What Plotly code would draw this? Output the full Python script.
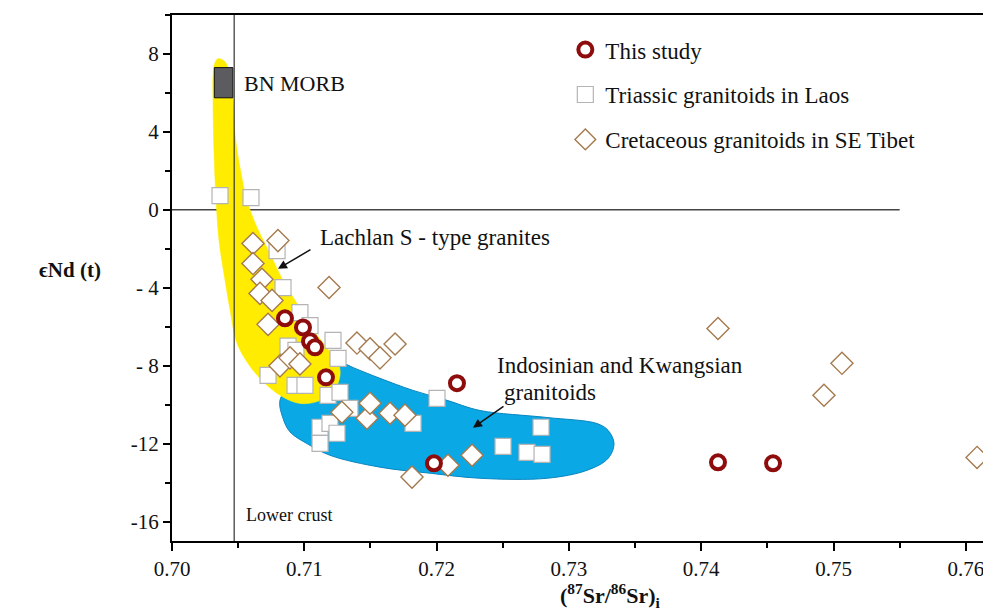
import plotly.graph_objects as go

# ---------------- data ----------------
study_sr = [0.70854, 0.70990, 0.71043, 0.71081, 0.71164, 0.72154, 0.71980, 0.74127, 0.74543]
study_nd = [-5.57, -6.04, -6.75, -7.06, -8.60, -8.90, -13.01, -12.96, -13.01]

laos_sr = [0.70363, 0.70597, 0.70794, 0.70839, 0.70967, 0.71043, 0.70877, 0.70937, 0.71217,
           0.71255, 0.70726, 0.70930, 0.71005, 0.71179, 0.71270, 0.71345, 0.71822, 0.72003,
           0.71119, 0.71194, 0.71247, 0.71119, 0.72502, 0.72683, 0.72797, 0.72789]
laos_nd = [0.73, 0.63, -2.09, -3.99, -5.28, -5.94, -7.00, -7.21, -6.70,
           -7.63, -8.50, -9.01, -9.01, -9.52, -9.37, -10.19, -10.96, -9.68,
           -11.16, -10.96, -11.47, -11.99, -12.14, -12.45, -12.55, -11.16]

tibet_sr = [0.70612, 0.70801, 0.70612, 0.70680, 0.70665, 0.70756, 0.70726, 0.71187,
            0.70816, 0.70892, 0.70967, 0.71398, 0.71497, 0.71572, 0.71686, 0.71284,
            0.71474, 0.71497, 0.71648, 0.71761, 0.71814, 0.72086, 0.72268, 0.74127,
            0.75064, 0.74928, 0.76085]
tibet_nd = [-1.73, -1.58, -2.76, -3.57, -4.29, -4.65, -5.88, -3.99,
            -8.01, -7.60, -7.91, -6.84, -7.14, -7.60, -6.89, -10.39,
            -10.70, -9.93, -10.44, -10.54, -13.72, -13.11, -12.60, -6.09,
            -7.88, -9.52, -12.71]

# field outlines (Sr, Nd)
lachlan_sr = [0.70348, 0.70401, 0.70438, 0.70461, 0.70476, 0.70514, 0.70567, 0.70643, 0.70741,
              0.70839, 0.70945, 0.71043, 0.71156, 0.71255, 0.71270, 0.71217, 0.71104, 0.70967,
              0.70831, 0.70688, 0.70559, 0.70484, 0.70446, 0.70401, 0.70355, 0.70333, 0.70317,
              0.70310, 0.70310, 0.70325, 0.70348]
lachlan_nd = [7.76, 7.60, 6.89, 5.61, 3.91, 2.17, 0.48, -0.91, -2.24,
              -3.63, -4.81, -5.94, -6.96, -7.84, -8.50, -9.37, -9.83, -9.94,
              -9.58, -8.81, -7.73, -6.71, -5.42, -3.63, -1.57, 0.48, 3.04,
              5.61, 6.89, 7.56, 7.76]

indo_sr = [0.71119, 0.71270, 0.71383, 0.71572, 0.71822, 0.72079, 0.72328, 0.72834, 0.73212,
           0.73296, 0.73341, 0.73296, 0.73137, 0.72834, 0.72328, 0.71950, 0.71572, 0.71194,
           0.71020, 0.70892, 0.70839, 0.70816, 0.70892, 0.71005, 0.71119]
indo_nd = [-8.00, -7.84, -8.14, -8.65, -9.27, -9.78, -10.30, -10.66, -10.97,
           -11.32, -11.99, -12.76, -13.37, -13.78, -13.78, -13.52, -13.21, -12.60,
           -12.00, -11.40, -10.70, -9.78, -9.01, -8.34, -8.00]

morb_sr = [0.7032, 0.7046]
morb_nd = [5.75, 7.30]
lower_crust_sr = 0.7047
zero_line_sr = [0.70, 0.755]

x_ticks = [0.70, 0.71, 0.72, 0.73, 0.74, 0.75, 0.76]
x_ticktext = ["0.70", "0.71", "0.72", "0.73", "0.74", "0.75", "0.76"]
y_ticks = [8, 4, 0, -4, -8, -12, -16]
y_ticktext = ["8", "4", "0", "- 4", "- 8", "-12", "-16"]

FONT = "Liberation Serif, Times New Roman, serif"

fig = go.Figure()

# fields
fig.add_trace(go.Scatter(x=indo_sr, y=indo_nd, mode="lines", line=dict(shape="spline", color="#0A86C0", width=1, smoothing=1),
                         fill="toself", fillcolor="#0BA8E6", showlegend=False, hoverinfo="skip"))
fig.add_trace(go.Scatter(x=lachlan_sr, y=lachlan_nd, mode="lines", line=dict(shape="spline", color="#FFEC00", width=0.5, smoothing=1),
                         fill="toself", fillcolor="#FFEC00", showlegend=False, hoverinfo="skip"))

# points
fig.add_trace(go.Scatter(x=laos_sr, y=laos_nd, mode="markers", name="Triassic granitoids in Laos",
                         legendgroup="b", legendrank=2,
                         marker=dict(symbol="square", size=16, color="white", line=dict(color="#B4B4B4", width=1.2))))
fig.add_trace(go.Scatter(x=tibet_sr, y=tibet_nd, mode="markers", name="Cretaceous granitoids in SE Tibet",
                         legendgroup="c", legendrank=3,
                         marker=dict(symbol="diamond", size=17, color="white", line=dict(color="#A57A4E", width=1.4))))
fig.add_trace(go.Scatter(x=study_sr, y=study_nd, mode="markers", name="This study",
                         legendgroup="a", legendrank=1,
                         marker=dict(symbol="circle", size=14, color="white", line=dict(color="#8E0C0C", width=4))))

shapes = [
    dict(type="line", xref="x", yref="y", x0=lower_crust_sr, x1=lower_crust_sr, y0=-17, y1=10,
         line=dict(color="#333333", width=1.2), layer="above"),
    dict(type="line", xref="x", yref="y", x0=zero_line_sr[0], x1=zero_line_sr[1], y0=0, y1=0,
         line=dict(color="#444444", width=1.5), layer="below"),
    dict(type="rect", xref="x", yref="y", x0=morb_sr[0], x1=morb_sr[1], y0=morb_nd[0], y1=morb_nd[1],
         fillcolor="#5C5C60", line=dict(color="#111111", width=1), layer="above"),
]

annotations = [
    dict(x=0.70529, y=6.48, xref="x", yref="y", text="BN MORB", showarrow=False, xanchor="left", yanchor="middle",
         font=dict(family=FONT, size=22, color="#111")),
    dict(x=0.71104, y=-1.42, xref="x", yref="y", text="Lachlan S - type granites", showarrow=False,
         xanchor="left", yanchor="middle", font=dict(family=FONT, size=23, color="#111")),
    dict(x=0.70801, y=-3.03, ax=0.71058, ay=-2.0, xref="x", yref="y", axref="x", ayref="y", text="",
         showarrow=True, arrowhead=2, arrowsize=1.2, arrowwidth=1.5, arrowcolor="#111"),
    dict(x=0.72441, y=-7.98, xref="x", yref="y", text="Indosinian and Kwangsian", showarrow=False,
         xanchor="left", yanchor="middle", font=dict(family=FONT, size=23, color="#111")),
    dict(x=0.72494, y=-9.37, xref="x", yref="y", text="granitoids", showarrow=False,
         xanchor="left", yanchor="middle", font=dict(family=FONT, size=23, color="#111")),
    dict(x=0.72275, y=-11.19, ax=0.72517, ay=-10.04, xref="x", yref="y", axref="x", ayref="y", text="",
         showarrow=True, arrowhead=2, arrowsize=1.2, arrowwidth=1.5, arrowcolor="#111"),
    dict(x=0.70544, y=-15.68, xref="x", yref="y", text="Lower crust", showarrow=False,
         xanchor="left", yanchor="middle", font=dict(family=FONT, size=18, color="#111")),
    dict(x=-0.167, y=0.515, xref="paper", yref="paper", text="<b>ϵNd (t)</b>", showarrow=False,
         xanchor="left", yanchor="middle", font=dict(family=FONT, size=21, color="#111")),
    dict(x=0.541, y=-0.104, xref="paper", yref="paper",
         text="<b>(<sup>87</sup>Sr/<sup>86</sup>Sr)<sub>i</sub></b>", showarrow=False,
         xanchor="center", yanchor="middle", font=dict(family=FONT, size=22, color="#111")),
]

fig.update_layout(
    width=983, height=616,
    margin=dict(l=172, r=0, t=15, b=75),
    paper_bgcolor="white", plot_bgcolor="white",
    shapes=shapes, annotations=annotations,
    showlegend=True,
    legend=dict(x=0.485, y=0.975, xanchor="left", yanchor="top", bgcolor="rgba(0,0,0,0)",
                font=dict(family=FONT, size=23, color="#111"), tracegroupgap=12,
                traceorder="grouped"),
    xaxis=dict(range=[0.70, 0.7613], tickvals=x_ticks, ticktext=x_ticktext, ticklabeloverflow="allow",
               showgrid=False, zeroline=False, showline=True, linecolor="black", linewidth=2.2,
               mirror=True, ticks="outside", ticklen=8, tickwidth=2, tickcolor="black",
               minor=dict(dtick=0.005, tick0=0.70, ticks="outside", ticklen=5, tickwidth=2, tickcolor="black"),
               tickfont=dict(family=FONT, size=21, color="#111")),
    yaxis=dict(range=[-17, 10], tickvals=y_ticks, ticktext=y_ticktext,
               showgrid=False, zeroline=False, showline=True, linecolor="black", linewidth=2.2,
               mirror=False, ticks="outside", ticklen=7, tickwidth=2, tickcolor="black",
               minor=dict(dtick=2, tick0=0, ticks="outside", ticklen=5, tickwidth=2, tickcolor="black"),
               tickfont=dict(family=FONT, size=21, color="#111")),
)

fig.write_html("out.html")
